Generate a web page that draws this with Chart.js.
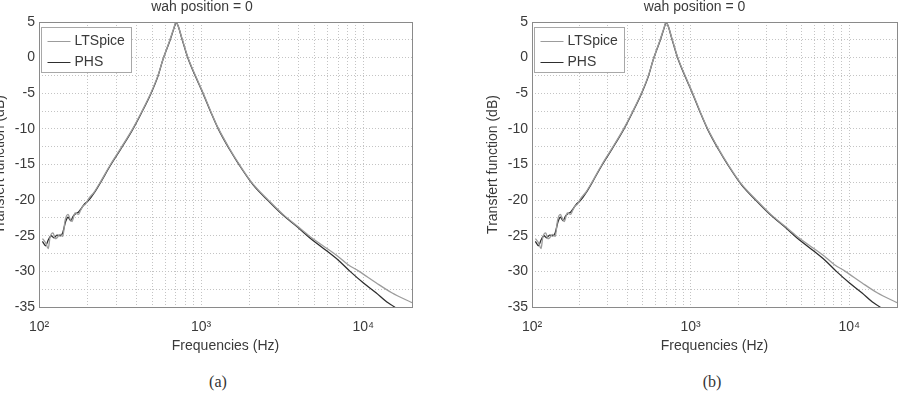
<!DOCTYPE html>
<html>
<head>
<meta charset="utf-8">
<script src="https://cdn.jsdelivr.net/npm/chart.js@4/dist/chart.umd.min.js"></script>
<style>
  body { margin: 0; background: #fff; width: 909px; height: 399px; overflow: hidden; position: relative; }
  .panel { position: absolute; top: -3px; height: 360px; }
  .panel canvas { display: block; }
  .caption { position: absolute; top: 373px; width: 60px; text-align: center; font: 16px "Liberation Serif", "DejaVu Serif", serif; color: #333; }
</style>
</head>
<body>
<div class="panel" style="left:-8px;width:468px"><canvas id="chart-a"></canvas></div>
<div class="panel" style="left:485px;width:424px"><canvas id="chart-b"></canvas></div>
<div class="caption" style="left:188px">(a)</div>
<div class="caption" style="left:682px">(b)</div>
<script>
// frequency response (Hz, dB)
const ltspiceFreq = [105, 110, 114, 117, 122, 126, 129, 135, 140, 145, 151, 156, 160, 167, 175, 180, 187, 193, 201, 220, 240, 276, 320, 378, 430, 489, 540, 581, 640, 680, 700, 720, 760, 830, 930, 1040, 1150, 1276, 1500, 1722, 2100, 2600, 3200, 3900, 4690, 5560, 7000, 8000, 9440, 12000, 15000, 20000];
const ltspiceDb = [-25.4, -26.0, -26.8, -25.2, -24.6, -25.4, -25.3, -24.8, -25.1, -22.8, -22.0, -22.7, -23.0, -21.8, -22.0, -21.5, -20.8, -20.6, -19.9, -18.8, -17.4, -15.0, -12.7, -10.0, -7.6, -5.0, -2.6, -0.3, 2.4, 4.2, 5.0, 4.5, 2.8, 0.0, -2.7, -5.2, -7.6, -9.9, -12.8, -15.0, -17.8, -20.0, -22.0, -23.6, -25.1, -26.3, -27.9, -29.0, -30.0, -31.6, -33.0, -34.4];

const phsFreq = [105, 110, 114, 119, 124, 129, 135, 140, 146, 151, 157, 162, 168, 175, 182, 190, 201, 220, 240, 276, 320, 378, 430, 489, 540, 581, 640, 680, 700, 720, 760, 830, 930, 1040, 1150, 1276, 1500, 1722, 2100, 2600, 3200, 3900, 4690, 5560, 7000, 8300, 10000, 12000, 14000, 15600, 17500, 20000];
const phsDb = [-25.8, -26.4, -25.6, -25.0, -25.3, -24.9, -25.0, -24.6, -23.0, -22.4, -22.9, -22.3, -21.9, -21.7, -21.2, -20.6, -20.1, -18.9, -17.5, -15.1, -12.8, -10.1, -7.7, -5.1, -2.7, -0.3, 2.3, 4.1, 4.9, 4.5, 2.7, -0.1, -2.8, -5.3, -7.7, -10.0, -12.9, -15.1, -17.9, -20.1, -22.1, -23.7, -25.3, -26.6, -28.4, -30.0, -31.6, -33.0, -34.3, -35.0, -36.0, -37.3];

const xTicks = [100, 200, 300, 400, 500, 600, 700, 800, 900, 1000, 2000, 3000, 4000, 5000, 6000, 7000, 8000, 9000, 10000, 20000];
const xLabels = { 100: '10²', 1000: '10³', 10000: '10⁴' };
const seriesNames = ['LTSpice', 'PHS'];
const seriesColors = ['#9c9c9c', '#2e2e2e'];

const FONT = "'Liberation Sans', Arial, sans-serif";
const TEXT = '#3a3a3a';

const matlabBox = {
  id: 'matlabBox',
  afterDatasetsDraw(chart) {
    const { ctx, chartArea: a } = chart;
    ctx.save();
    ctx.strokeStyle = '#8a8a8a';
    ctx.lineWidth = 1;
    ctx.strokeRect(Math.round(a.left) + 0.5, Math.round(a.top) + 0.5, Math.round(a.right - a.left), Math.round(a.bottom - a.top));
    // legend in the upper left corner
    const x = Math.round(a.left) + 2.5, y = Math.round(a.top) + 5.5;
    ctx.fillStyle = '#fff';
    ctx.fillRect(x, y, 90, 45);
    ctx.strokeStyle = '#a8a8a8';
    ctx.strokeRect(x, y, 90, 45);
    ctx.font = '14px ' + FONT;
    ctx.textBaseline = 'middle';
    chart.data.datasets.forEach((ds, i) => {
      const ry = y + 14 + i * 21;
      ctx.strokeStyle = ds.borderColor;
      ctx.lineWidth = 1;
      ctx.beginPath();
      ctx.moveTo(x + 6, ry);
      ctx.lineTo(x + 29, ry);
      ctx.stroke();
      ctx.fillStyle = TEXT;
      ctx.fillText(ds.label, x + 33, ry);
    });
    ctx.restore();
  }
};

function toPoints(fs, vs) {
  return fs.map((f, i) => ({ x: f, y: vs[i] }));
}

function makeChart(id, padRight) {
  const ctx = document.getElementById(id);
  const line = { showLine: true, pointRadius: 0, borderWidth: 1.3, cubicInterpolationMode: 'monotone' };
  return new Chart(ctx, {
    type: 'scatter',
    data: {
      datasets: [
        { label: seriesNames[0], data: toPoints(ltspiceFreq, ltspiceDb), borderColor: seriesColors[0], ...line },
        { label: seriesNames[1], data: toPoints(phsFreq, phsDb), borderColor: seriesColors[1], ...line }
      ]
    },
    options: {
      responsive: true,
      maintainAspectRatio: false,
      animation: false,
      layout: { padding: { left: 0, right: padRight, top: 0, bottom: 2 } },
      plugins: {
        legend: { display: false },
        tooltip: { enabled: false },
        title: {
          display: true,
          text: 'wah position = 0',
          color: TEXT,
          font: { family: FONT, size: 14, weight: 'normal', lineHeight: 1 },
          padding: { top: 3, bottom: 8 }
        }
      },
      scales: {
        x: {
          type: 'logarithmic',
          min: 100,
          max: 20000,
          afterBuildTicks: (scale) => { scale.ticks = xTicks.map(v => ({ value: v })); },
          afterFit: (scale) => { scale.height = 48; },
          ticks: {
            autoSkip: false,
            maxRotation: 0,
            padding: 12,
            color: TEXT,
            font: { family: FONT, size: 14 },
            callback: (v) => xLabels[v] || ''
          },
          grid: { color: '#c4c4c4', drawTicks: false },
          border: { display: false, dash: [1, 2] },
          title: { display: true, text: 'Frequencies (Hz)', color: TEXT, font: { family: FONT, size: 14 }, padding: 0 }
        },
        y: {
          min: -35,
          max: 5,
          afterFit: (scale) => { scale.width = 47; },
          ticks: {
            stepSize: 2.5,
            autoSkip: false,
            padding: 4,
            color: TEXT,
            font: { family: FONT, size: 14 },
            callback: (v) => (v % 5 === 0 ? String(v) : '')
          },
          grid: { color: '#c4c4c4', drawTicks: false },
          border: { display: false, dash: [1, 2] },
          title: { display: true, text: 'Transfert function (dB)', color: TEXT, font: { family: FONT, size: 14 }, padding: 0 }
        }
      }
    },
    plugins: [matlabBox]
  });
}

makeChart('chart-a', 48);
makeChart('chart-b', 5);
</script>
</body>
</html>
